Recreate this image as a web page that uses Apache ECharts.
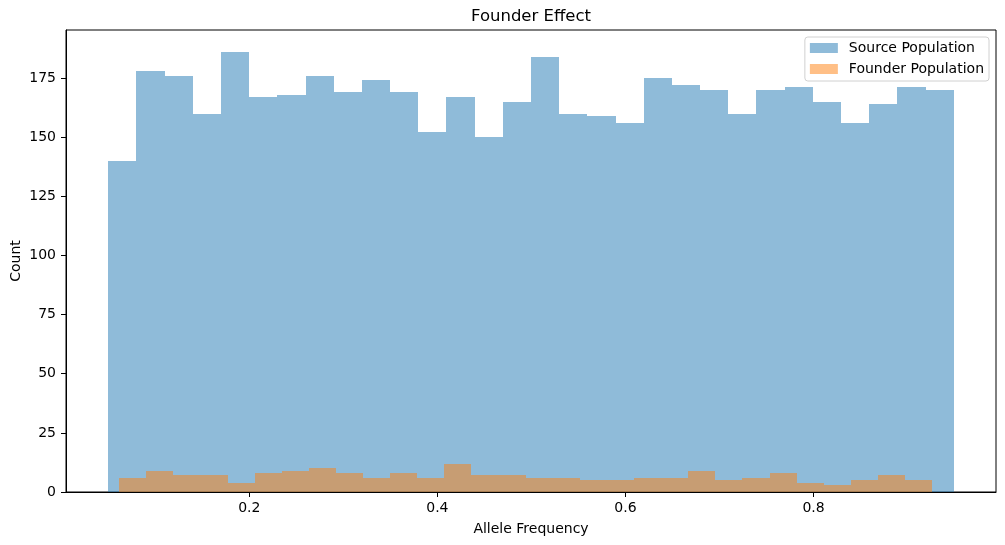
<!DOCTYPE html>
<html>
<head>
  <meta charset="UTF-8">
  <title>Founder Effect</title>
  <script type="text/javascript" src="https://cdn.jsdelivr.net/npm/echarts@6/dist/echarts.min.js"></script>
  <style>
    html, body { margin: 0; padding: 0; background: #fff; }
  </style>
</head>
<body>
<div id="chart" style="width:1005px; height:545px;"></div>
<script>
  // ============ data ============
  const seriesNames = ['Source Population', 'Founder Population'];

  // histogram ranges: [first bin left edge, last bin right edge]
  const sourceRange = [0.0501, 0.9490];
  const founderRange = [0.0618, 0.9260];

  // 30 bins each
  const sourceCounts = [140, 178, 176, 160, 186, 167, 168, 176, 169, 174,
                        169, 152, 167, 150, 165, 184, 160, 159, 156, 175,
                        172, 170, 160, 170, 171, 165, 156, 164, 171, 170];
  const founderCounts = [6, 9, 7, 7, 4, 8, 9, 10, 8, 6,
                         8, 6, 12, 7, 7, 6, 6, 5, 5, 6,
                         6, 9, 5, 6, 8, 4, 3, 5, 7, 5];

  const xTicks = [0.2, 0.4, 0.6, 0.8];
  const yTicks = [0, 25, 50, 75, 100, 125, 150, 175];

  // ============ build bins ============
  function toBins(range, counts) {
    const w = (range[1] - range[0]) / counts.length;
    return counts.map((c, i) => [range[0] + i * w, range[0] + (i + 1) * w, c]);
  }

  // matplotlib-like 5% margins
  const xLo = Math.min(sourceRange[0], founderRange[0]);
  const xHi = Math.max(sourceRange[1], founderRange[1]);
  const xMin = xLo - 0.05 * (xHi - xLo);
  const xMax = xHi + 0.05 * (xHi - xLo);
  const yMax = Math.max(...sourceCounts, ...founderCounts) * 1.05;

  // snap edges to whole pixels so neighbouring bars leave no seam
  function renderBar(params, api) {
    const p0 = api.coord([api.value(0), 0]);
    const p1 = api.coord([api.value(1), api.value(2)]);
    const x0 = Math.round(p0[0]), x1 = Math.round(p1[0]);
    const y0 = Math.round(p0[1]), y1 = Math.round(p1[1]);
    return {
      type: 'rect',
      shape: { x: x0, y: y1, width: x1 - x0, height: y0 - y1 },
      style: { fill: api.visual('color'), stroke: null, lineWidth: 0 }
    };
  }

  const font = 'DejaVu Sans';
  const chart = echarts.init(document.getElementById('chart'), null, { renderer: 'canvas' });

  chart.setOption({
    animation: false,
    textStyle: { fontFamily: font },
    title: {
      text: 'Founder Effect',
      left: 526,
      textAlign: 'center',
      top: 3,
      textStyle: { fontFamily: font, fontSize: 16.5, fontWeight: 'normal', color: '#000' }
    },
    legend: {
      orient: 'vertical',
      right: 16,
      top: 37,
      padding: [4, 5, 5, 5],
      itemWidth: 28,
      itemHeight: 10,
      itemGap: 7,
      icon: 'rect',
      backgroundColor: '#fff',
      borderColor: '#d0d0d0',
      borderWidth: 1,
      borderRadius: 3,
      textStyle: { fontFamily: font, fontSize: 14, color: '#000', padding: [0, 0, 0, 6] },
      data: seriesNames
    },
    grid: {
      left: 66, right: 9, top: 30, bottom: 53,
      containLabel: false,
      outerBoundsMode: 'none',
      show: true, borderColor: '#000', borderWidth: 1, backgroundColor: 'transparent'
    },
    xAxis: {
      type: 'value',
      min: xMin,
      max: xMax,
      name: 'Allele Frequency',
      nameLocation: 'middle',
      nameGap: 30,
      nameMoveOverlap: false,
      nameTextStyle: { fontFamily: font, fontSize: 14, color: '#000' },
      splitLine: { show: false },
      axisLine: { show: true, onZero: false, lineStyle: { color: '#000' } },
      axisTick: { show: true, length: 5, lineStyle: { color: '#000' }, customValues: xTicks },
      axisLabel: {
        fontFamily: font, fontSize: 14, color: '#000', margin: 9,
        customValues: xTicks,
        formatter: v => v.toFixed(1)
      }
    },
    yAxis: {
      type: 'value',
      min: 0,
      max: yMax,
      name: 'Count',
      nameLocation: 'middle',
      nameRotate: 90,
      nameGap: 43,
      nameMoveOverlap: false,
      nameTextStyle: { fontFamily: font, fontSize: 14, color: '#000' },
      splitLine: { show: false },
      axisLine: { show: true, lineStyle: { color: '#000' } },
      axisTick: { show: true, length: 5, lineStyle: { color: '#000' }, customValues: yTicks },
      axisLabel: {
        fontFamily: font, fontSize: 14, color: '#000', margin: 10,
        customValues: yTicks
      }
    },
    series: [
      {
        name: seriesNames[0],
        type: 'custom',
        renderItem: renderBar,
        itemStyle: { color: 'rgba(31,119,180,0.5)' },
        encode: { x: [0, 1], y: 2 },
        data: toBins(sourceRange, sourceCounts)
      },
      {
        name: seriesNames[1],
        type: 'custom',
        renderItem: renderBar,
        itemStyle: { color: 'rgba(255,127,14,0.5)' },
        encode: { x: [0, 1], y: 2 },
        data: toBins(founderRange, founderCounts)
      }
    ]
  });
</script>
</body>
</html>
